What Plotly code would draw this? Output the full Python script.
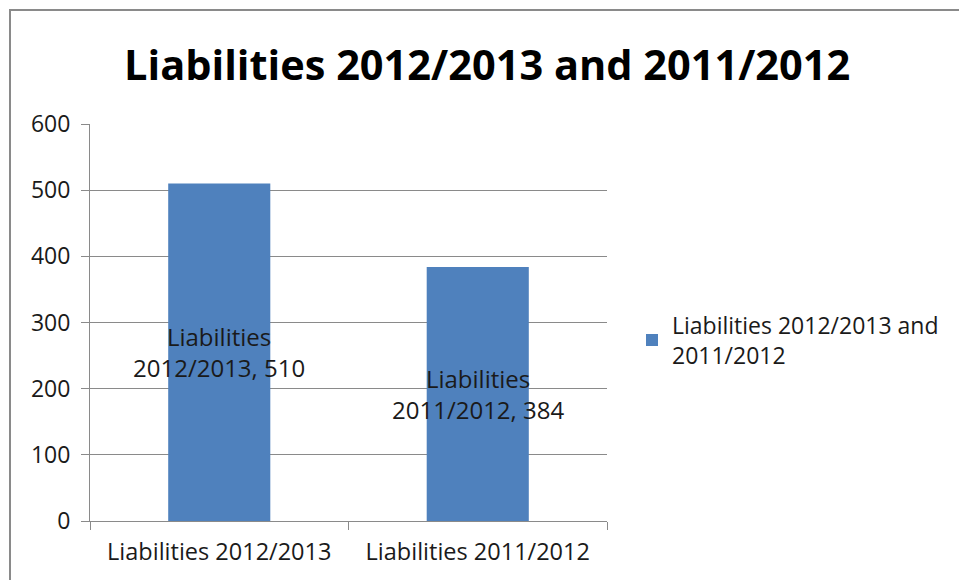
import plotly.graph_objects as go

categories = ["Liabilities 2012/2013", "Liabilities 2011/2012"]
values = [510, 384]
label_texts = ["Liabilities<br>2012/2013, 510", "Liabilities<br>2011/2012, 384"]
series_name = "Liabilities 2012/2013 and<br>2011/2012"
title_text = "Liabilities 2012/2013 and 2011/2012"
y_ticks = [0, 100, 200, 300, 400, 500, 600]

FONT = "'Open Sans', sans-serif"
TXT = 23.5

fig = go.Figure()
fig.add_trace(go.Bar(
    x=categories, y=values, name=series_name,
    marker=dict(color="#4F81BD", line=dict(width=0)),
    width=0.395, showlegend=True, hoverinfo="x+y",
))

for c, v, t in zip(categories, values, label_texts):
    fig.add_annotation(x=c, y=v / 2, text=t, showarrow=False,
                       font=dict(family=FONT, size=24, color="#1A1A1A"),
                       xref="x", yref="y", align="center")

fig.add_shape(type="rect", xref="paper", yref="paper",
              x0=(10 - 90) / 517, x1=2.0, y0=-1.0, y1=(521 - 10) / 397,
              line=dict(color="#8A8A8A", width=2), fillcolor="rgba(0,0,0,0)", layer="below")

fig.update_layout(
    width=959, height=580,
    margin=dict(l=90, r=352, t=124, b=59, autoexpand=False),
    paper_bgcolor="white", plot_bgcolor="white",
    title=dict(text="<b>" + title_text + "</b>", x=0.508, xref="container", xanchor="center",
               y=1 - 65 / 580, yref="container", yanchor="middle",
               font=dict(family=FONT, size=41.5, color="#000000")),
    showlegend=True,
    legend=dict(x=632 / 959, xref="container", xanchor="left",
                y=1 - 340 / 580, yref="container", yanchor="middle",
                font=dict(family=FONT, size=23, color="#1A1A1A"),
                bgcolor="rgba(0,0,0,0)", itemwidth=30),
    bargap=0.6,
)
fig.update_xaxes(type="category", showline=True, linecolor="#8A8A8A", linewidth=1,
                 ticks="outside", tickson="boundaries", ticklen=8, tickcolor="#8A8A8A",
                 ticklabelstandoff=10, automargin=False,
                 tickfont=dict(family=FONT, size=TXT, color="#1A1A1A"), showgrid=False)
fig.update_yaxes(range=[0, 600], tickvals=y_ticks, showline=True, linecolor="#8A8A8A", linewidth=1,
                 ticks="outside", ticklen=8, tickcolor="#8A8A8A", gridcolor="#8A8A8A", gridwidth=1,
                 ticklabelstandoff=6, automargin=False,
                 tickfont=dict(family=FONT, size=23, color="#1A1A1A"), zeroline=False)

fig.write_html("out.html")
